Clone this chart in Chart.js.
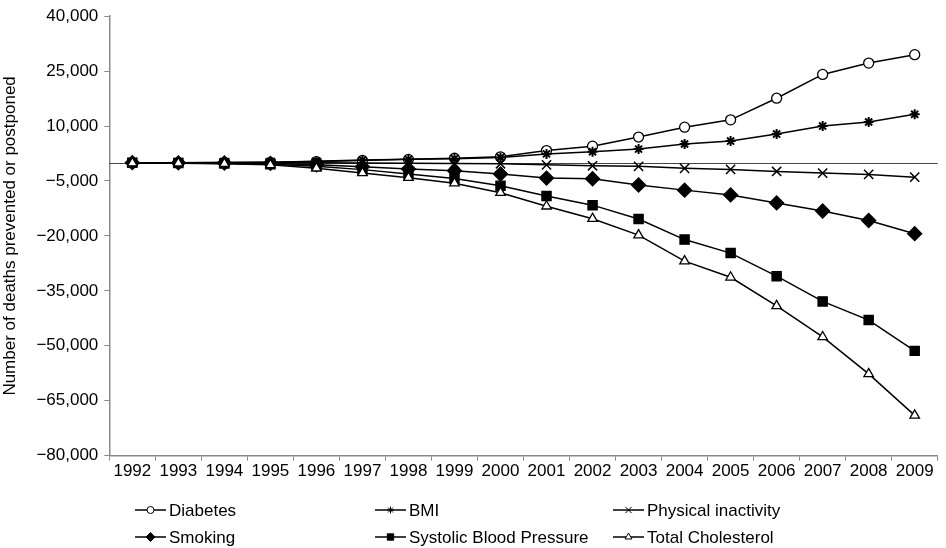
<!DOCTYPE html>
<html>
<head>
<meta charset="utf-8">
<script src="https://cdn.jsdelivr.net/npm/chart.js@4.4.1/dist/chart.umd.min.js"></script>
<style>
  html, body { margin: 0; padding: 0; background: #fff; }
  #wrap { width: 946px; height: 548px; position: relative; }
</style>
</head>
<body>
<div id="wrap"><canvas id="chart"></canvas></div>
<script>
// Data
const years = ['1992', '1993', '1994', '1995', '1996', '1997', '1998', '1999', '2000',
  '2001', '2002', '2003', '2004', '2005', '2006', '2007', '2008', '2009'];

const diabetes = [0, 0, 50, 100, 300, 600, 900, 1200, 1600, 3300, 4500, 7000, 9700, 11700, 17600, 24100, 27200, 29500];
const bmi = [0, 0, 50, 100, 400, 700, 900, 1100, 1400, 2400, 3000, 3700, 5100, 5900, 7800, 10000, 11100, 13200];
const physicalInactivity = [0, 0, 0, 0, -50, -100, -150, -250, -300, -600, -850, -1000, -1550, -1850, -2400, -2850, -3200, -3950];
const smoking = [0, -50, -100, -200, -600, -1100, -1700, -2200, -3100, -4200, -4400, -6100, -7500, -8800, -11000, -13200, -15800, -19400];
const systolicBP = [0, -100, -200, -400, -1000, -1900, -3100, -4300, -6300, -9100, -11600, -15400, -21000, -24700, -31000, -37900, -43000, -51400];
const totalCholesterol = [-100, -150, -300, -600, -1500, -2800, -4100, -5600, -8200, -11900, -15300, -19800, -26900, -31300, -39100, -47600, -57700, -69000];

const FONT = "'Liberation Sans', Arial, sans-serif";
const AXIS_GREY = '#8a8a8a';

function series(label, data, style, radius, fill, order, pointWidth) {
  return {
    label: label,
    data: data,
    order: order,
    borderColor: '#000',
    borderWidth: 1.5,
    pointStyle: style,
    pointRadius: radius,
    pointHoverRadius: radius,
    pointBackgroundColor: fill,
    pointBorderColor: '#000',
    pointBorderWidth: pointWidth,
    tension: 0,
    fill: false,
  };
}

// zero line across the plot
const zeroLine = {
  id: 'zeroLine',
  beforeDatasetsDraw(chart) {
    const { ctx, chartArea, scales } = chart;
    const y = Math.round(scales.y.getPixelForValue(0)) + 0.5;
    ctx.save();
    ctx.strokeStyle = '#444';
    ctx.lineWidth = 1;
    ctx.beginPath();
    ctx.moveTo(chartArea.left, y);
    ctx.lineTo(chartArea.right, y);
    ctx.stroke();
    ctx.restore();
  },
};

// legend in a 3 x 2 grid under the axis
const gridLegend = {
  id: 'gridLegend',
  afterDraw(chart) {
    const ctx = chart.ctx;
    const colX = [135, 375, 613];
    const rowY = [510, 537];
    const markRadius = { circle: 3.5, star: 3.5, crossRot: 4.5, rectRot: 4.5, rect: 4.5, triangle: 4 };
    ctx.save();
    chart.data.datasets.forEach((ds, i) => {
      const x = colX[i % 3];
      const y = rowY[Math.floor(i / 3)];
      ctx.strokeStyle = '#000';
      ctx.lineWidth = 1.5;
      ctx.beginPath();
      ctx.moveTo(x, y);
      ctx.lineTo(x + 31, y);
      ctx.stroke();
      ctx.fillStyle = ds.pointBackgroundColor;
      ctx.lineWidth = 1;
      Chart.helpers.drawPoint(ctx, {
        pointStyle: ds.pointStyle,
        radius: markRadius[ds.pointStyle],
        rotation: 0,
        borderWidth: 1,
      }, x + 15.5, y);
      ctx.fillStyle = '#000';
      ctx.font = '17px ' + FONT;
      ctx.textAlign = 'left';
      ctx.textBaseline = 'middle';
      ctx.fillText(ds.label, x + 34, y + 1);
    });
    ctx.restore();
  },
};

new Chart(document.getElementById('chart'), {
  type: 'line',
  data: {
    labels: years,
    datasets: [
      series('Diabetes', diabetes, 'circle', 5, '#fff', 5, 1.3),
      series('BMI', bmi, 'star', 5, '#000', 4, 2),
      series('Physical inactivity', physicalInactivity, 'crossRot', 6.5, '#000', 3, 1.5),
      series('Smoking', smoking, 'rectRot', 7, '#000', 2, 1.3),
      series('Systolic Blood Pressure', systolicBP, 'rect', 6.5, '#000', 1, 1.3),
      series('Total Cholesterol', totalCholesterol, 'triangle', 5.5, '#fff', 0, 1.3),
    ],
  },
  options: {
    responsive: true,
    maintainAspectRatio: false,
    animation: false,
    layout: { padding: { top: 12, right: 7, bottom: 65, left: 0 } },
    plugins: {
      legend: { display: false },
      tooltip: { enabled: false },
    },
    scales: {
      x: {
        offset: true,
        grid: {
          offset: true,
          drawOnChartArea: false,
          tickLength: 5,
          tickColor: AXIS_GREY,
        },
        border: { color: AXIS_GREY, width: 1.5 },
        ticks: {
          color: '#000',
          font: { family: FONT, size: 17 },
          maxRotation: 0,
          autoSkip: false,
          padding: 1,
        },
      },
      y: {
        min: -80000,
        max: 40000,
        grid: {
          drawOnChartArea: false,
          tickLength: 5,
          tickColor: AXIS_GREY,
        },
        border: { color: AXIS_GREY, width: 1.5 },
        ticks: {
          stepSize: 15000,
          color: '#000',
          font: { family: FONT, size: 17 },
          padding: 6,
          callback: (v) => v.toLocaleString('en-US').replace('-', '\u2212'),
        },
        title: {
          display: true,
          text: 'Number of deaths prevented or postponed',
          color: '#000',
          font: { family: FONT, size: 17 },
          padding: { top: 0, bottom: 10 },
        },
      },
    },
  },
  plugins: [zeroLine, gridLegend],
});
</script>
</body>
</html>
